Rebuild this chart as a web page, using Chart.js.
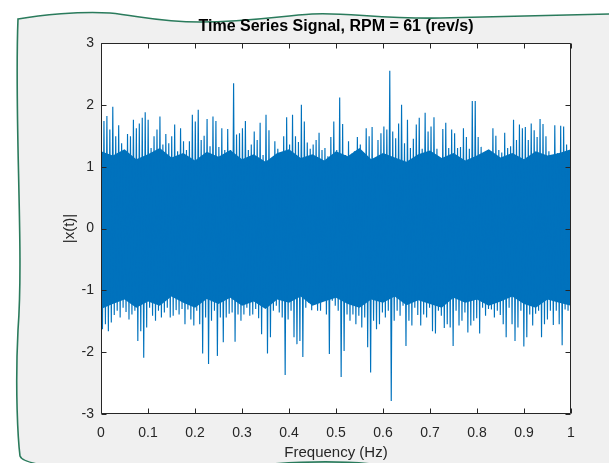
<!DOCTYPE html>
<html><head><meta charset="utf-8">
<script src="https://cdn.jsdelivr.net/npm/chart.js@4/dist/chart.umd.min.js"></script>
<style>html,body{margin:0;padding:0;background:#fff}canvas{display:block}</style>
</head><body>
<canvas id="c" width="609" height="463"></canvas>
<script>
// ---- data ----
const titleText = 'Time Series Signal, RPM = 61 (rev/s)';
const xTickLabels = ['0','0.1','0.2','0.3','0.4','0.5','0.6','0.7','0.8','0.9','1'];
const yTickLabels = ['-3','-2','-1','0','1','2','3'];

// positive excursions of the signal, left to right
const upperPeaks = [
 2.03,1.74,1.82,1.60,1.97,1.49,1.67,1.38,1.25,1.53,1.49,1.76,1.62,1.70,1.79,1.88,1.76,1.30,1.49,1.60,
 1.81,1.36,1.53,1.38,1.49,1.68,1.25,1.62,1.41,1.27,1.41,1.84,1.73,1.92,1.43,1.50,1.77,1.33,1.81,1.74,
 1.32,1.62,1.27,1.61,1.27,2.35,1.52,1.54,1.62,1.74,1.27,1.36,1.57,1.43,
 1.71,1.19,1.84,1.59,1.03,1.41,1.29,1.22,1.49,1.80,1.36,1.84,1.49,1.40,2.00,1.73,1.39,1.29,1.36,1.43,
 1.55,1.27,1.30,1.17,1.48,1.73,1.27,2.12,1.69,1.19,1.41,1.21,1.25,1.48,1.36,1.17,1.62,1.49,1.64,1.09,
 1.43,1.54,1.65,1.60,2.55,1.57,1.46,1.70,2.00,1.38,1.76,1.30,1.45,1.68,
 1.79,1.29,1.87,1.57,1.65,1.80,1.29,0.95,1.61,1.71,1.30,1.60,1.54,1.30,1.32,1.62,1.48,1.29,2.06,2.06,
 1.48,1.32,1.17,1.19,1.09,1.62,1.50,1.27,1.23,1.55,1.30,1.33,1.76,1.43,1.68,1.62,1.64,1.43,1.70,1.59,
 1.48,1.77,1.69,1.49,1.25,1.17,1.67,1.22,1.66,1.65,1.36,1.17
];
// negative excursions of the signal, left to right
const lowerPeaks = [
 -1.63,-1.55,-1.66,-1.52,-1.40,-1.33,-1.44,-1.28,-1.35,-1.47,-1.39,-1.33,-1.82,-1.66,-2.09,-1.60,-1.28,-1.41,-1.49,-1.33,
 -1.44,-1.36,-1.28,-1.44,-1.41,-1.32,-1.39,-1.30,-1.55,-1.31,-1.47,-1.57,-1.33,-1.55,-2.02,-1.44,-2.19,-1.49,-1.33,-2.06,
 -1.44,-1.84,-1.44,-1.38,-1.36,-1.83,-1.39,-1.49,-1.39,-1.28,-1.41,-1.39,-1.30,-1.45,
 -1.71,-1.28,-2.02,-1.76,-1.33,-1.25,-1.36,-1.44,-2.37,-1.47,-1.33,-1.76,-1.87,-1.82,-2.08,-1.28,-1.20,-1.32,-1.23,-1.33,
 -1.33,-1.17,-1.39,-2.03,-1.17,-1.25,-1.33,-2.40,-1.98,-1.39,-1.49,-1.39,-1.55,-1.41,-1.60,-1.44,-1.92,-2.33,-1.49,-1.63,
 -1.55,-1.36,-1.44,-1.33,-2.79,-1.49,-1.33,-1.41,-1.25,-1.90,-1.49,-1.57,-1.28,-1.40,
 -1.57,-1.39,-1.44,-1.28,-1.66,-1.70,-1.33,-1.41,-1.61,-1.55,-1.60,-1.90,-1.33,-1.57,-1.49,-1.36,-1.68,-1.57,-1.49,-1.45,
 -1.70,-1.28,-1.41,-1.30,-1.31,-1.44,-1.33,-1.40,-1.55,-1.76,-1.28,-1.55,-1.82,-1.60,-1.33,-1.91,-1.76,-1.39,-1.57,-1.38,
 -1.33,-1.76,-1.55,-1.47,-1.33,-1.56,-1.33,-1.55,-1.89,-1.31,-1.33,-1.28
];
// ragged edges of the dense (solid) core of the trace, at x = 0, 0.025, ... 1
const coreTop = [1.25,1.18,1.28,1.12,1.20,1.30,1.15,1.22,1.10,1.24,1.16,1.27,1.12,1.20,1.08,1.22,1.28,1.14,1.20,1.10,
                 1.25,1.17,1.30,1.12,1.22,1.15,1.08,1.20,1.26,1.14,1.22,1.10,1.18,1.28,1.15,1.22,1.12,1.25,1.18,1.22,1.28];
const coreBottom = [-1.30,-1.22,-1.15,-1.28,-1.18,-1.25,-1.10,-1.20,-1.28,-1.14,-1.22,-1.12,-1.25,-1.18,-1.30,-1.15,-1.20,-1.10,-1.25,-1.18,
                    -1.12,-1.22,-1.28,-1.15,-1.20,-1.10,-1.24,-1.16,-1.22,-1.28,-1.12,-1.20,-1.15,-1.25,-1.18,-1.10,-1.22,-1.28,-1.15,-1.20,-1.25];

// ---- build the library's tables ----
const N = upperPeaks.length;
const M = 2 * N;
const signal = [];
for (let i = 0; i < N; i++) {
  signal.push({x: (2 * i) / (M - 1), y: upperPeaks[i]});
  signal.push({x: (2 * i + 1) / (M - 1), y: lowerPeaks[i]});
}
const coreTopPts = coreTop.map((v, i) => ({x: i / (coreTop.length - 1), y: v}));
const coreBotPts = coreBottom.map((v, i) => ({x: i / (coreBottom.length - 1), y: v}));

const FONT = '"Liberation Sans", Arial, Helvetica, sans-serif';
const BLUE = '#0072BD';
const AX = '#262626';

const frame = {
  id: 'frame',
  beforeDraw(chart) {
    const c = chart.ctx;
    c.save();
    c.fillStyle = '#ffffff';
    c.fillRect(0, 0, chart.width, chart.height);
    c.beginPath();
    c.moveTo(612, 14);
    c.lineTo(609, 14);
    c.bezierCurveTo(560, 15, 500, 17, 440, 18);
    c.bezierCurveTo(380, 19, 345, 12, 312, 14);
    c.bezierCurveTo(280, 16, 250, 22, 200, 22);
    c.bezierCurveTo(160, 22, 140, 16, 110, 13);
    c.bezierCurveTo(80, 11, 40, 15, 18, 19);
    c.bezierCurveTo(14, 120, 24, 250, 18, 330);
    c.bezierCurveTo(15, 390, 18, 440, 20, 456);
    c.bezierCurveTo(25, 472, 150, 470, 250, 466);
    c.bezierCurveTo(300, 461, 340, 460, 380, 465);
    c.lineTo(612, 470);
    c.closePath();
    c.fillStyle = '#f0f0f0';
    c.fill();
    c.strokeStyle = '#2a7b5c';
    c.lineWidth = 1.6;
    c.stroke();
    const a = chart.chartArea;
    c.fillStyle = '#ffffff';
    c.fillRect(a.left, a.top, a.right - a.left, a.bottom - a.top);
    c.restore();
  },
  afterDraw(chart) {
    const c = chart.ctx, a = chart.chartArea;
    const xs = chart.scales.x, ys = chart.scales.y;
    c.save();
    c.strokeStyle = AX;
    c.lineWidth = 1;
    const L = Math.round(a.left) + 0.5, R = Math.round(a.right) - 0.5;
    const T = Math.round(a.top) + 0.5, B = Math.round(a.bottom) - 0.5;
    c.beginPath();
    c.rect(L, T, R - L, B - T);
    const tl = 5;
    xs.ticks.forEach(t => {
      const px = Math.round(xs.getPixelForValue(t.value)) + 0.5;
      c.moveTo(px, B); c.lineTo(px, B - tl);
      c.moveTo(px, T); c.lineTo(px, T + tl);
    });
    ys.ticks.forEach(t => {
      const py = Math.round(ys.getPixelForValue(t.value)) + 0.5;
      c.moveTo(L, py); c.lineTo(L + tl, py);
      c.moveTo(R, py); c.lineTo(R - tl, py);
    });
    c.stroke();
    // title, centred over the axes
    c.fillStyle = '#000';
    c.font = 'bold 16px ' + FONT;
    c.textAlign = 'center';
    c.textBaseline = 'middle';
    c.fillText(titleText, (a.left + a.right) / 2, 27);
    c.restore();
  }
};

new Chart(document.getElementById('c'), {
  type: 'line',
  data: {
    datasets: [
      {data: signal, borderColor: BLUE, borderWidth: 1.15, pointRadius: 0, fill: false,
       tension: 0, borderJoinStyle: 'bevel', order: 0},
      {data: coreTopPts, borderWidth: 0, borderColor: BLUE, backgroundColor: BLUE,
       pointRadius: 0, fill: '+1', tension: 0, order: 1},
      {data: coreBotPts, borderWidth: 0, borderColor: BLUE, pointRadius: 0, fill: false,
       tension: 0, order: 2}
    ]
  },
  options: {
    responsive: false,
    animation: false,
    devicePixelRatio: 1,
    parsing: false,
    layout: {padding: {left: 0, right: 38, top: 43, bottom: 0}},
    plugins: {
      legend: {display: false},
      tooltip: {enabled: false},
      title: {display: false}
    },
    scales: {
      x: {
        type: 'linear', min: 0, max: 1,
        grid: {display: false, drawTicks: false},
        border: {display: false},
        ticks: {
          stepSize: 0.1, autoSkip: false, maxRotation: 0, padding: 11,
          color: AX, font: {family: FONT, size: 14},
          callback: (v, i) => xTickLabels[i]
        },
        title: {display: true, text: 'Frequency (Hz)', color: AX,
                font: {family: FONT, size: 15}, padding: {top: 0, bottom: 1}},
        afterFit(s) { s.height = 49; }
      },
      y: {
        type: 'linear', min: -3, max: 3,
        grid: {display: false, drawTicks: false},
        border: {display: false},
        ticks: {
          stepSize: 1, padding: 7,
          color: AX, font: {family: FONT, size: 14},
          callback: (v, i) => yTickLabels[i]
        },
        title: {display: true, text: '|x(t)|', color: AX,
                font: {family: FONT, size: 15}, padding: {top: 61, bottom: 0}},
        afterFit(s) { s.width = 101; }
      }
    }
  },
  plugins: [frame]
});
</script>
</body></html>
